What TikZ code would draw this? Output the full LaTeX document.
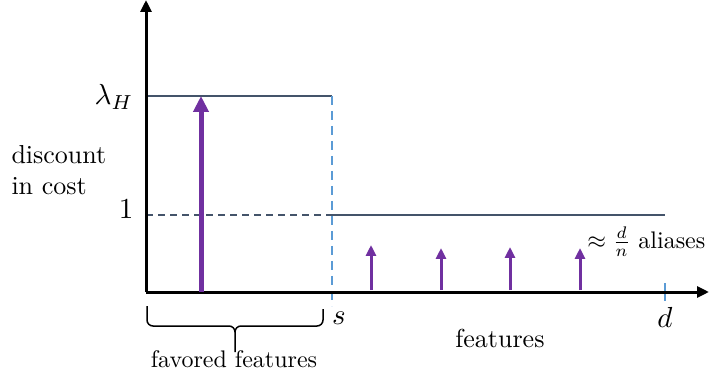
\documentclass[tikz,border=0pt]{standalone}
\usetikzlibrary{arrows.meta}
\definecolor{purp}{HTML}{7030A0}
\definecolor{bluel}{HTML}{5B9BD5}
\definecolor{slate}{HTML}{44546A}
\begin{document}
\begin{tikzpicture}[x=1pt,y=-1pt,
  axis/.style={line width=3pt,-{Triangle[length=12pt,width=11pt]}},
  bigarrow/.style={purp,line width=5pt,-{Triangle[length=16pt,width=15pt]}},
  smallarrow/.style={purp,line width=3pt,-{Triangle[length=11pt,width=10pt]}},
  level/.style={slate,line width=1.6pt},
  bdash/.style={bluel,line width=1.6pt,dash pattern=on 9pt off 6pt},
  lbl/.style={inner sep=0pt,scale=2.6},
  mlbl/.style={inner sep=0pt,scale=2.9},
  slbl/.style={inner sep=0pt,scale=2.4}]
\useasboundingbox (0,0) rectangle (709,379);
% coordinates
\coordinate (O) at (146,292);
\coordinate (ytop) at (146,0);
\coordinate (xend) at (709,292);
\coordinate (lamL) at (146,96);
\coordinate (lamR) at (332,96);
\coordinate (sbot) at (332,306);
\coordinate (oneL) at (146,215);
\coordinate (oneM) at (332,215);
\coordinate (oneR) at (665,215);
\coordinate (dtop) at (665,283);
\coordinate (dbot) at (665,301);
% levels
\draw[level] (lamL) -- (lamR);
\draw[slate,line width=1.6pt,dash pattern=on 7pt off 5pt] (oneL) -- (oneM);
\draw[level] (oneM) -- (oneR);
\draw[bdash] (lamR) -- (sbot);
\draw[bluel,line width=1.6pt] (dtop) -- (dbot);
% axes
\draw[axis] (O) -- (ytop);
\draw[axis] (O) -- (xend);
% arrows
\coordinate (b0) at (201,292); \coordinate (b1) at (201,96);
\draw[bigarrow] (b0) -- (b1);
\foreach \x/\t in {371/245,441/248,510/247,580/248}{
  \coordinate (a0) at (\x,290); \coordinate (a1) at (\x,\t);
  \draw[smallarrow] (a0) -- (a1);
}
% labels
\node[mlbl,anchor=east] (lam) at (134,97) {$\lambda_H$};
\node[mlbl] (one) at (126,209) {$1$};
\node[lbl,anchor=west,align=left] (disc) at (11,170) {discount\\in cost};
\node[mlbl] (s) at (339,318) {$s$};
\node[mlbl] (d) at (665,317) {$d$};
\node[lbl] (feat) at (500,338) {features};
\node[slbl,anchor=west] (alias) at (587,242) {$\approx\frac{d}{n}$ aliases};
\node[slbl] (fav) at (234,359) {favored features};
% brace
\draw[line width=1.5pt,line join=round]
  (147,306) -- (147,320) to[out=-90,in=180] (153,326) -- (229,326) to[out=0,in=90] (235,332) -- (235,352);
\draw[line width=1.5pt,line join=round]
  (235,332) to[out=90,in=180] (241,326) -- (317,326) to[out=0,in=-90] (323,320) -- (323,309);
\end{tikzpicture}
\end{document}
